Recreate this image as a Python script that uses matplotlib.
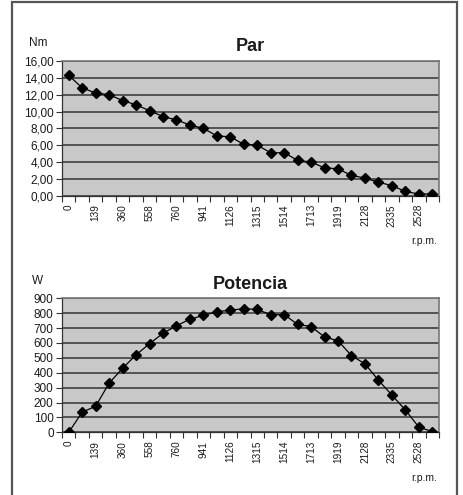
import matplotlib
matplotlib.use('Agg')
import matplotlib.pyplot as plt
from matplotlib.patches import Rectangle
from matplotlib.ticker import FuncFormatter

plt.rcParams['font.family'] = ['Liberation Sans', 'DejaVu Sans']

# rpm labels shown under every second point (Excel hides the others)
rpm_labels = ['0', '139', '360', '558', '760', '941', '1126', '1315',
              '1514', '1713', '1919', '2128', '2335', '2528']

par = [14.3, 12.8, 12.2, 12.0, 11.3, 10.8, 10.1, 9.4, 9.0, 8.4, 8.0, 7.1, 7.0, 6.1,
       6.0, 5.1, 5.1, 4.2, 4.0, 3.3, 3.2, 2.4, 2.1, 1.6, 1.2, 0.5, 0.2, 0.2]

potencia = [0, 135, 175, 330, 430, 520, 595, 665, 715, 760, 785, 810, 820, 830,
            825, 790, 790, 725, 710, 640, 615, 515, 460, 350, 250, 150, 35, 5]

W, H = 463, 495


def px_axes(fig, left, top, right, bottom):
    return fig.add_axes([left / W, 1 - bottom / H, (right - left) / W, (bottom - top) / H])


def draw_panel(ax, values, title, ymax, ystep, unit, fmt):
    n = len(values)
    x = list(range(n))
    ax.set_facecolor('#c8c8c8')
    ax.plot(x, values, color='black', linewidth=0.9, marker='D', markersize=5.5,
            markerfacecolor='black', markeredgecolor='black', zorder=3)
    ax.set_xlim(-0.5, n - 0.5)
    ax.set_ylim(0, ymax)
    ax.set_yticks([v * ystep for v in range(int(ymax / ystep) + 1)])
    ax.yaxis.set_major_formatter(FuncFormatter(fmt))
    ax.grid(axis='y', color='#4a4a4a', linewidth=1.3)
    ax.set_axisbelow(True)
    # tick marks between categories, labels under every second point
    ax.set_xticks([i + 0.5 for i in range(-1, n)])
    ax.set_xticklabels([])
    ax.set_xticks(list(range(0, n, 2)), minor=True)
    ax.set_xticklabels(rpm_labels, minor=True, rotation=90, fontsize=7.2, color='#1a1a1a')
    ax.tick_params(axis='x', which='major', length=4, width=0.8, color='#333333', direction='out')
    ax.tick_params(axis='x', which='minor', length=0, pad=6)
    ax.tick_params(axis='y', length=4, width=0.8, color='#333333', labelsize=8.5,
                   labelcolor='#1a1a1a', pad=2)
    for side in ['top', 'right']:
        ax.spines[side].set_color('#777777')
        ax.spines[side].set_linewidth(1.2)
    for side in ['left', 'bottom']:
        ax.spines[side].set_color('#333333')
        ax.spines[side].set_linewidth(0.9)
    ax.set_title(title, fontsize=13, fontweight='bold', color='#1a1a1a', pad=7)
    ax.text(-0.064, 1.13, unit, transform=ax.transAxes, fontsize=8.5, color='#1a1a1a',
            ha='center', va='center')
    ax.text(0.995, -0.34, 'r.p.m.', transform=ax.transAxes, fontsize=7.5, color='#1a1a1a',
            ha='right', va='center')


fig = plt.figure(figsize=(W / 100, H / 100), dpi=100)

# outer frame
fig.patches.append(Rectangle((12 / W, -0.05), (456.5 - 12) / W, 1.05 - 2.5 / H,
                             transform=fig.transFigure, fill=False,
                             edgecolor='#555555', linewidth=1.6))

ax1 = px_axes(fig, 62, 61, 439, 195.7)
draw_panel(ax1, par, 'Par', 16, 2, 'Nm', lambda v, p: ('%.2f' % v).replace('.', ','))

ax2 = px_axes(fig, 62, 298.3, 439, 432.3)
draw_panel(ax2, potencia, 'Potencia', 900, 100, 'W', lambda v, p: '%d' % v)

fig.savefig('out.png', dpi=100)
